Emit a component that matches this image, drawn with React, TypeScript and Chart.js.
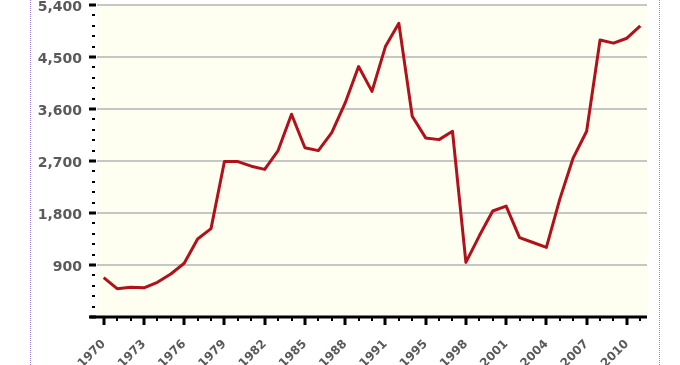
import React, { useEffect, useRef } from "react";
import { Chart, registerables } from "chart.js";

Chart.register(...registerables);

const years: string[] = [
  "1970", "1971", "1972", "1973", "1974", "1975", "1976", "1977", "1978", "1979",
  "1980", "1981", "1982", "1983", "1984", "1985", "1986", "1987", "1988", "1989",
  "1990", "1991", "1992", "1993", "1995", "1996", "1997", "1998", "1999", "2000",
  "2001", "2002", "2003", "2004", "2005", "2006", "2007", "2008", "2009", "2010",
  "2011",
];

const values: number[] = [
  680, 490, 515, 505, 600, 745, 930, 1350, 1530, 2690,
  2690, 2610, 2555, 2880, 3510, 2930, 2880, 3190, 3705, 4335,
  3905, 4680, 5085, 3475, 3100, 3070, 3215, 945, 1405, 1835,
  1920, 1375, 1290, 1205, 2040, 2755, 3215, 4795, 4740, 4825,
  5040,
];

const yMin = 0;
const yMax = 5400;
const yMajorStep = 900;
const yMinorStep = 180;
const xLabelEvery = 3;

const axisPlugin = {
  id: "customAxes",
  beforeDraw(chart: any) {
    const { ctx, chartArea } = chart;
    ctx.save();
    ctx.fillStyle = "#fefef1";
    ctx.fillRect(chartArea.left, chartArea.top, chartArea.right - chartArea.left, chartArea.bottom - chartArea.top);
    ctx.restore();
  },
  afterDraw(chart: any) {
    const { ctx, chartArea } = chart;
    const xs = chart.scales.x;
    const ys = chart.scales.y;
    ctx.save();
    ctx.fillStyle = "#000";
    for (let v = yMin; v <= yMax; v += yMinorStep) {
      const py = Math.round(ys.getPixelForValue(v));
      if (v % yMajorStep === 0) {
        ctx.fillRect(chartArea.left - 8, py - 1.5, 7, 3);
      } else {
        ctx.fillRect(chartArea.left - 5, py - 1, 3, 2);
      }
    }
    const by = chartArea.bottom;
    ctx.fillRect(chartArea.left - 7, by - 1.5, chartArea.right - chartArea.left + 7, 3);
    for (let i = 0; i < years.length; i++) {
      const px = Math.round(xs.getPixelForValue(i));
      if (i % xLabelEvery === 0) {
        ctx.fillRect(px - 1.5, by, 3, 8);
      } else {
        ctx.fillRect(px - 1, by, 2, 4);
      }
    }
    ctx.restore();
  },
};

export default function App() {
  const ref = useRef<HTMLCanvasElement | null>(null);
  useEffect(() => {
    if (!ref.current) return;
    const chart = new Chart(ref.current, {
      type: "line",
      data: {
        labels: years,
        datasets: [
          {
            data: values,
            borderColor: "#b0111a",
            borderWidth: 3,
            pointRadius: 0,
            tension: 0,
            fill: false,
            borderJoinStyle: "round",
          },
        ],
      },
      options: {
        animation: false,
        responsive: false,
        layout: { padding: { top: 5, right: 33, left: 0, bottom: 0 } },
        plugins: { legend: { display: false }, tooltip: { enabled: false } },
        scales: {
          x: {
            type: "category",
            offset: true,
            grid: { display: false, drawTicks: false },
            border: { display: false },
            ticks: {
              autoSkip: false,
              minRotation: 45,
              maxRotation: 45,
              padding: 20,
              color: "#5a5a5a",
              font: { family: "DejaVu Sans", weight: "bold", size: 12 },
              callback: (_v: any, idx: number) => (idx % xLabelEvery === 0 ? years[idx] : ""),
            },
            afterFit: (s: any) => {
              s.height = 48;
              s.paddingLeft = 0;
              s.paddingRight = 0;
            },
          },
          y: {
            min: yMin,
            max: yMax,
            grid: {
              drawTicks: false,
              color: (c: any) => (c.tick && c.tick.value === 0 ? "rgba(0,0,0,0)" : "#c6c6c6"),
              lineWidth: 2,
            },
            border: { display: false },
            ticks: {
              stepSize: yMajorStep,
              padding: 15,
              labelOffset: 2,
              color: "#5a5a5a",
              font: { family: "DejaVu Sans", weight: "bold", size: 14 },
              callback: (v: any) => (v === 0 ? "" : Number(v).toLocaleString("en-US")),
            },
            afterFit: (s: any) => {
              s.width = 97;
              s.paddingTop = 0;
              s.paddingBottom = 0;
            },
          },
        },
      },
      plugins: [axisPlugin],
    });
    return () => chart.destroy();
  }, []);

  return (
    <div style={{ position: "absolute", left: 0, top: 0, width: 680, height: 365, overflow: "hidden", background: "#fff" }}>
      <canvas ref={ref} width={680} height={365} style={{ position: "absolute", left: 0, top: 0, width: 680, height: 365 }} />
      <div style={{ position: "absolute", left: 30, top: 0, height: 365, borderLeft: "1px dotted #a27ad8" }} />
      <div style={{ position: "absolute", left: 659, top: 0, height: 365, borderLeft: "1px dotted #a27ad8" }} />
    </div>
  );
}
